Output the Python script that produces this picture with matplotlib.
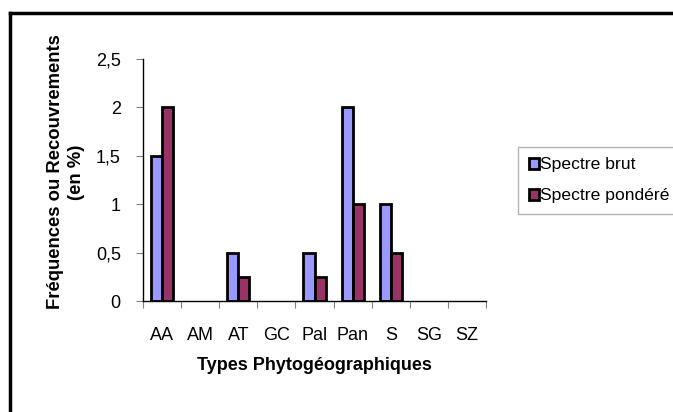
import numpy as np
import matplotlib
matplotlib.use("Agg")
import matplotlib.pyplot as plt
from matplotlib.patches import Patch
from matplotlib.lines import Line2D
from matplotlib.ticker import FuncFormatter

plt.rcParams['font.family'] = ['Liberation Sans', 'DejaVu Sans']

# données
types = ['AA', 'AM', 'AT', 'GC', 'Pal', 'Pan', 'S', 'SG', 'SZ']
spectre_brut = [1.5, 0, 0.5, 0, 0.5, 2, 1, 0, 0]
spectre_pondere = [2, 0, 0.25, 0, 0.25, 1, 0.5, 0, 0]

col_brut = '#9999FF'
col_pond = '#993366'

fig = plt.figure(figsize=(6.73, 4.12), dpi=100)
ax = fig.add_axes([143 / 673, 1 - 301 / 412, (486 - 143) / 673, (301 - 59) / 412])

x = np.arange(len(types)) + 0.5
bw = 0.29
b1 = ax.bar(x - bw / 2, spectre_brut, bw, color=col_brut, edgecolor='black', linewidth=2)
b2 = ax.bar(x + bw / 2, spectre_pondere, bw, color=col_pond, edgecolor='black', linewidth=2)
# les barres nulles ne sont pas dessinées
for rect in list(b1) + list(b2):
    if rect.get_height() == 0:
        rect.set_visible(False)

ax.set_xlim(0, len(types))
ax.set_ylim(0, 2.5)
ax.set_yticks(np.arange(0, 2.51, 0.5))
ax.yaxis.set_major_formatter(FuncFormatter(lambda v, p: ('%g' % v).replace('.', ',')))
ax.set_xticks(np.arange(0, len(types) + 1))
ax.set_xticklabels([])
ax.set_xticks(x, minor=True)
ax.set_xticklabels(types, minor=True)
ax.tick_params(axis='x', which='minor', length=0, pad=19, labelsize=13)
ax.tick_params(axis='x', which='major', length=5, color='gray', width=0.8)
ax.tick_params(axis='y', length=5, color='gray', width=0.8, labelsize=13, pad=11)

for s in ['top', 'right']:
    ax.spines[s].set_visible(False)
ax.spines['left'].set_linewidth(1)
ax.spines['bottom'].set_linewidth(1)

ax.set_xlabel('Types Phytogéographiques', fontsize=13, fontweight='bold', labelpad=9)
fig.text(66 / 673, 1 - 172 / 412, 'Fréquences ou Recouvrements\n(en %)', rotation=90,
         ha='center', va='center', fontsize=13.3, fontweight='bold', multialignment='center',
         linespacing=1.25)

handles = [Patch(facecolor=col_brut, edgecolor='black', linewidth=2),
           Patch(facecolor=col_pond, edgecolor='black', linewidth=2)]
leg = fig.legend(handles, ['Spectre brut', 'Spectre pondéré'], loc='upper left',
                 bbox_to_anchor=(518 / 673, 1 - 147 / 412), fontsize=12.6,
                 handlelength=0.58, handleheight=0.58, handletextpad=0.1,
                 borderpad=0.6, labelspacing=0.9, fancybox=False, borderaxespad=0)
leg.get_frame().set_edgecolor('#a0a0a0')
leg.get_frame().set_linewidth(1)

# cadre du graphique
fig.add_artist(Line2D([10 / 673, 10 / 673], [0, 1 - 13 / 412], color='black', linewidth=2.5))
fig.add_artist(Line2D([10 / 673, 1], [1 - 13 / 412, 1 - 13 / 412], color='black', linewidth=2.5))

fig.savefig('out.png', dpi=100)
